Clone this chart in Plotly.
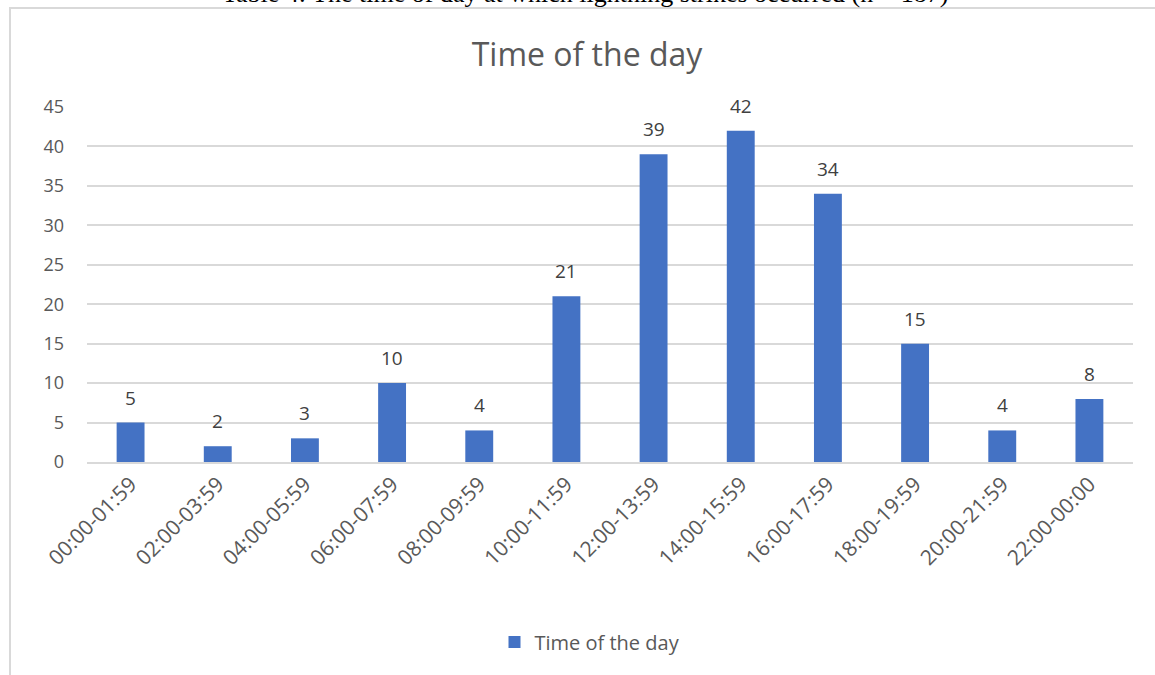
import plotly.graph_objects as go

categories = ["00:00-01:59", "02:00-03:59", "04:00-05:59", "06:00-07:59", "08:00-09:59",
              "10:00-11:59", "12:00-13:59", "14:00-15:59", "16:00-17:59", "18:00-19:59",
              "20:00-21:59", "22:00-00:00"]
counts = [5, 2, 3, 10, 4, 21, 39, 42, 34, 15, 4, 8]
series_name = "Time of the day"
chart_title = "Time of the day"
caption = "Table 4: The time of day at which lightning strikes occurred (n = 187)"
y_ticks = [0, 5, 10, 15, 20, 25, 30, 35, 40, 45]

W, H = 1155, 675
ml, mr, mt, mb = 87, 22, 107, 213
pw, ph = W - ml - mr, H - mt - mb

def px(x):
    return (x - ml) / pw

def py(y):
    return (H - mb - y) / ph

font_fam = "Open Sans, Lato, sans-serif"
gray = "#595959"

fig = go.Figure()
fig.add_trace(go.Bar(
    x=categories, y=counts, name=series_name,
    marker=dict(color="#4472C4", line=dict(width=0)),
    showlegend=True,
))

annotations = [dict(x=c, y=v, xref="x", yref="y", text=str(v), showarrow=False,
                    xanchor="center", yanchor="bottom", yshift=10,
                    font=dict(size=19, color="#404040", family=font_fam))
               for c, v in zip(categories, counts)]
annotations.append(dict(text=caption, xref="paper", yref="paper",
                        x=px(585), y=py(-7), xanchor="center", yanchor="middle",
                        showarrow=False,
                        font=dict(family="Liberation Serif, Times New Roman, serif",
                                  size=26, color="black")))

fig.update_layout(
    width=W, height=H,
    margin=dict(l=ml, r=mr, t=mt, b=mb, pad=0),
    paper_bgcolor="white", plot_bgcolor="white",
    bargap=0.68,
    font=dict(family=font_fam, color=gray),
    title=dict(text=chart_title, x=587 / W, xanchor="center", xref="container",
               y=1 - 55 / H, yanchor="middle",
               font=dict(size=32, color=gray, family=font_fam)),
    xaxis=dict(tickangle=-45, tickfont=dict(size=21, color=gray),
               showgrid=False, showline=True, linecolor="#D9D9D9", linewidth=1.5,
               ticks="", automargin=False),
    yaxis=dict(range=[0, 45], tickvals=y_ticks, tickfont=dict(size=18, color=gray),
               showgrid=True, gridcolor="#D9D9D9", gridwidth=1.5,
               zeroline=False, showline=False, ticks="", ticklabelstandoff=22,
               automargin=False),
    legend=dict(orientation="h", x=px(590), xanchor="center", y=py(642), yanchor="middle",
                font=dict(size=20, color=gray), itemwidth=30),
    shapes=[dict(type="rect", xref="paper", yref="paper",
                 x0=px(10), x1=px(1200), y0=py(720), y1=py(8),
                 line=dict(color="#D9D9D9", width=2), fillcolor="rgba(0,0,0,0)",
                 layer="below")],
    annotations=annotations,
)

fig.write_html("out.html")
